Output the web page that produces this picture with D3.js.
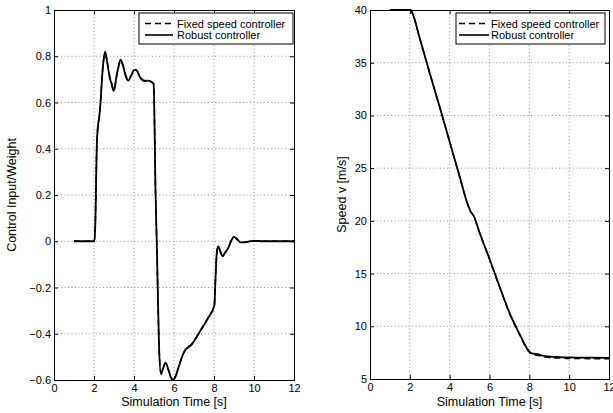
<!DOCTYPE html>
<html>
<head>
<meta charset="utf-8">
<script src="https://cdn.jsdelivr.net/npm/d3@7/dist/d3.min.js"></script>
<style>
  html, body { margin: 0; padding: 0; background: #fff; }
  svg { display: block; }
  text { font-family: "Liberation Sans", Arial, Helvetica, sans-serif; fill: #000; }
</style>
</head>
<body>
<svg id="fig" width="613" height="413"></svg>
<script>
// Control input (normalised by weight) over time, [t, value]
const controlRobust = [
  [1, 0], [2.02, 0], [2.06, 0.06], [2.15, 0.44], [2.3, 0.57], [2.45, 0.76], [2.55, 0.82],
  [2.65, 0.78], [2.78, 0.71], [2.88, 0.68], [2.98, 0.65], [3.05, 0.67], [3.1, 0.70],
  [3.2, 0.745], [3.33, 0.785], [3.45, 0.76], [3.6, 0.71], [3.72, 0.695], [3.85, 0.715],
  [4.0, 0.74], [4.1, 0.742], [4.3, 0.71], [4.5, 0.693], [4.7, 0.695], [4.85, 0.69],
  [4.98, 0.68], [5.08, 0.2], [5.15, -0.05], [5.25, -0.45], [5.35, -0.575], [5.45, -0.55],
  [5.58, -0.525], [5.7, -0.55], [5.85, -0.59], [5.95, -0.6], [6.05, -0.59], [6.22, -0.548],
  [6.4, -0.5], [6.55, -0.473], [6.88, -0.447], [7.3, -0.39], [7.72, -0.33], [8.02, -0.277],
  [8.08, -0.15], [8.15, -0.04], [8.22, -0.022], [8.3, -0.04], [8.43, -0.065], [8.55, -0.05],
  [8.72, -0.028], [8.85, 0.0], [9.0, 0.019], [9.15, 0.01], [9.33, -0.005], [9.5, -0.005],
  [9.8, 0.0], [10, 0.002], [10.5, 0], [12, 0]
];
const controlFixed = [
  [1, 0], [2.02, 0], [2.06, 0.06], [2.15, 0.44], [2.3, 0.57], [2.45, 0.76], [2.55, 0.815],
  [2.65, 0.78], [2.78, 0.715], [2.88, 0.685], [2.98, 0.655], [3.05, 0.67], [3.1, 0.70],
  [3.2, 0.745], [3.33, 0.78], [3.45, 0.76], [3.6, 0.715], [3.72, 0.7], [3.85, 0.715],
  [4.0, 0.738], [4.1, 0.74], [4.3, 0.712], [4.5, 0.695], [4.7, 0.695], [4.85, 0.69],
  [4.98, 0.68], [5.08, 0.2], [5.15, -0.05], [5.25, -0.45], [5.35, -0.57], [5.45, -0.55],
  [5.58, -0.528], [5.7, -0.55], [5.85, -0.588], [5.95, -0.598], [6.05, -0.588], [6.22, -0.545],
  [6.4, -0.5], [6.55, -0.47], [6.88, -0.445], [7.3, -0.388], [7.72, -0.328], [8.02, -0.275],
  [8.08, -0.15], [8.15, -0.04], [8.22, -0.024], [8.3, -0.04], [8.43, -0.063], [8.55, -0.05],
  [8.72, -0.027], [8.85, 0.0], [9.0, 0.017], [9.15, 0.009], [9.33, -0.004], [9.5, -0.004],
  [9.8, 0.0], [10, 0.001], [10.5, 0], [12, 0]
];

// Vehicle speed over time, [t, m/s]
const speedRobust = [
  [1, 40], [2.05, 40], [2.15, 39.6], [2.5, 37.3], [3, 34.0], [3.5, 30.8], [4, 27.5],
  [4.5, 24.2], [4.9, 21.6], [5.05, 20.9], [5.2, 20.5], [5.5, 18.9], [6, 16.4], [6.5, 13.8],
  [7, 11.3], [7.5, 9.3], [8, 7.6], [8.1, 7.45], [8.4, 7.35], [8.8, 7.18], [9.5, 7.08],
  [10, 7.05], [11, 7.02], [12, 7.0]
];
const speedFixed = [
  [1, 40], [2.05, 40], [2.15, 39.6], [2.5, 37.3], [3, 34.0], [3.5, 30.8], [4, 27.5],
  [4.5, 24.2], [4.9, 21.6], [5.05, 20.9], [5.2, 20.45], [5.5, 18.85], [6, 16.35], [6.5, 13.75],
  [7, 11.25], [7.5, 9.25], [8, 7.55], [8.1, 7.4], [8.4, 7.25], [8.8, 7.08], [9.5, 6.98],
  [10, 6.95], [11, 6.93], [12, 6.92]
];

const xTicks = [0, 2, 4, 6, 8, 10, 12];
const controlTicks = [-0.6, -0.4, -0.2, 0, 0.2, 0.4, 0.6, 0.8, 1];
const speedTicks = [5, 10, 15, 20, 25, 30, 35, 40];
const seriesNames = ["Fixed speed controller", "Robust controller"];

const svg = d3.select("#fig");

function fmt(v) {
  const s = d3.format("~g")(+v.toFixed(2));
  return s.replace("-", "\u2212");
}

function panel(cfg) {
  const { left, right, top, bottom } = cfg.box;
  const x = d3.scaleLinear().domain([0, 12]).range([left, right]);
  const y = d3.scaleLinear().domain(cfg.yDomain).range([bottom, top]);
  const g = svg.append("g");
  const clipId = "clip" + cfg.id;

  g.append("clipPath").attr("id", clipId)
    .append("rect").attr("x", left).attr("y", top - 1)
    .attr("width", right - left).attr("height", bottom - top + 2);

  // dotted grid
  const grid = g.append("g").attr("stroke", "#7a7a7a").attr("stroke-width", 0.8)
    .attr("stroke-dasharray", "1,2.5");
  grid.selectAll("line.vx").data(cfg.xTicks.slice(1, -1)).join("line")
    .attr("x1", d => x(d)).attr("x2", d => x(d)).attr("y1", top).attr("y2", bottom);
  grid.selectAll("line.hy").data(cfg.yTicks.slice(1, -1)).join("line")
    .attr("x1", left).attr("x2", right).attr("y1", d => y(d)).attr("y2", d => y(d));

  // axes with inward ticks on all four sides
  const ax = [
    [d3.axisBottom(x).tickValues(cfg.xTicks).tickSize(-4).tickFormat(fmt), `translate(0,${bottom})`, true],
    [d3.axisTop(x).tickValues(cfg.xTicks).tickSize(-4).tickFormat(""), `translate(0,${top})`, false],
    [d3.axisLeft(y).tickValues(cfg.yTicks).tickSize(-4).tickFormat(fmt), `translate(${left},0)`, true],
    [d3.axisRight(y).tickValues(cfg.yTicks).tickSize(-4).tickFormat(""), `translate(${right},0)`, false]
  ];
  ax.forEach(([a, tr]) => {
    const s = g.append("g").attr("transform", tr).call(a);
    s.select(".domain").attr("stroke", "#000").attr("stroke-width", 1);
    s.selectAll(".tick line").attr("stroke", "#000");
    s.selectAll(".tick text").attr("font-size", 11)
      .attr("font-family", "Liberation Sans, Arial, sans-serif").attr("fill", "#000");
  });
  g.selectAll("text").filter(function () { return this.parentNode.classList.contains("tick"); });
  // nudge tick labels
  g.selectAll(".tick text").each(function () {
    const t = d3.select(this);
    if (t.attr("x") !== null && +t.attr("x") < 0) t.attr("x", -3);
    if (t.attr("y") !== null && +t.attr("y") > 0) t.attr("y", 4);
  });

  // curves
  const line = d3.line().x(d => x(d[0])).y(d => y(d[1])).curve(d3.curveMonotoneX);
  const lines = g.append("g").attr("clip-path", `url(#${clipId})`).attr("fill", "none");
  lines.append("path").datum(cfg.robust).attr("d", line)
    .attr("stroke", "#000").attr("stroke-width", 1.8).attr("stroke-linejoin", "round");
  lines.append("path").datum(cfg.fixed).attr("d", line)
    .attr("stroke", "#000").attr("stroke-width", 1.5).attr("stroke-dasharray", "6,4");

  // axis labels
  g.append("text").attr("x", (left + right) / 2).attr("y", 406)
    .attr("text-anchor", "middle").attr("font-size", 12.5).text("Simulation Time [s]");
  g.append("text")
    .attr("transform", `translate(${cfg.yLabelX},${(top + bottom) / 2}) rotate(-90)`)
    .attr("text-anchor", "middle").attr("font-size", 12.5).text(cfg.yLabel);

  // legend
  const L = cfg.legend;
  const lg = g.append("g");
  lg.append("rect").attr("x", L.x).attr("y", L.y).attr("width", L.w).attr("height", 31)
    .attr("fill", "#fff").attr("stroke", "#000").attr("stroke-width", 1);
  seriesNames.forEach((name, i) => {
    const cy = L.y + 10.5 + i * 11.5;
    lg.append("line").attr("x1", L.x + L.s0).attr("x2", L.x + L.s1)
      .attr("y1", cy).attr("y2", cy).attr("stroke", "#000").attr("stroke-width", 1.6)
      .attr("stroke-dasharray", i === 0 ? "6,4" : null);
    lg.append("text").attr("x", L.x + L.t).attr("y", cy + 4).attr("font-size", 11).text(name);
  });
}

panel({
  id: "a", box: { left: 54, right: 294, top: 10, bottom: 380 },
  yDomain: [-0.6, 1], xTicks, yTicks: controlTicks,
  robust: controlRobust, fixed: controlFixed,
  yLabel: "Control Input/Weight", yLabelX: 16,
  legend: { x: 139, y: 13, w: 154, s0: 6, s1: 34, t: 38 }
});

panel({
  id: "b", box: { left: 370, right: 609, top: 10, bottom: 379 },
  yDomain: [5, 40], xTicks, yTicks: speedTicks,
  robust: speedRobust, fixed: speedFixed,
  yLabel: "Speed v [m/s]", yLabelX: 346,
  legend: { x: 456, y: 13, w: 149, s0: 3, s1: 33, t: 35 }
});
</script>
</body>
</html>
